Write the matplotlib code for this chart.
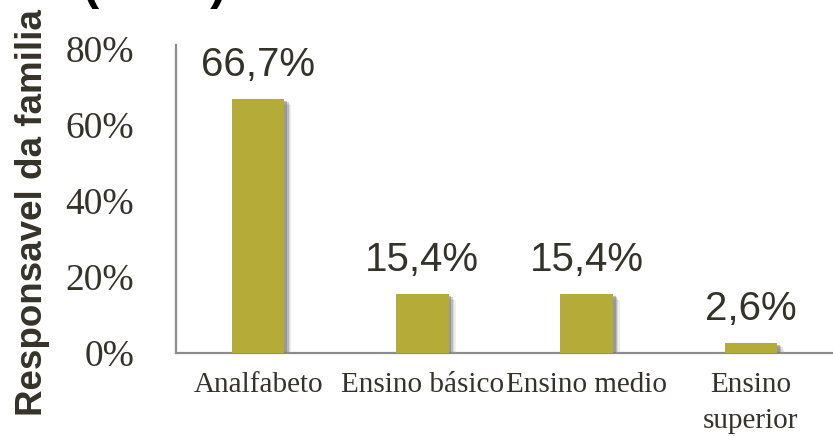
import matplotlib
matplotlib.use("Agg")
import matplotlib.pyplot as plt
import matplotlib.patheffects as pe
from matplotlib.ticker import FuncFormatter

categories = ["Analfabeto", "Ensino básico", "Ensino medio", "Ensino\nsuperior"]
values = [66.7, 15.4, 15.4, 2.6]
value_labels = ["66,7%", "15,4%", "15,4%", "2,6%"]
yticks = [0, 20, 40, 60, 80]

text_color = "#35322a"
bar_color = "#b5ab38"
spine_color = "#8c8c8c"

fig = plt.figure(figsize=(8.33, 4.36), dpi=100)
ax_h = 308.0
ax = fig.add_axes([176 / 833, 1 - 353 / 436, 1 - 176 / 833, ax_h / 436])

x = list(range(len(categories)))
shadow = [
    pe.SimplePatchShadow(offset=(5, -4), shadow_rgbFace="#b0b0b0", alpha=0.2),
    pe.SimplePatchShadow(offset=(4, -3), shadow_rgbFace="#9a9a9a", alpha=0.25),
    pe.SimplePatchShadow(offset=(3, -2), shadow_rgbFace="#808080", alpha=0.35),
    pe.SimplePatchShadow(offset=(2, -1), shadow_rgbFace="#707070", alpha=0.45),
    pe.Normal(),
]
bars = ax.bar(x, values, width=0.32, color=bar_color, zorder=3)
for b in bars:
    b.set_path_effects(shadow)

for xi, v, lab in zip(x, values, value_labels):
    ax.annotate(lab, (xi, v), xytext=(0, 11), textcoords="offset points",
                ha="center", va="bottom", fontsize=29,
                family="Liberation Sans", color=text_color)

ax.set_xlim(-0.5, 3.5)
ax.set_ylim(0, 81)
ax.set_yticks(yticks)
ax.yaxis.set_major_formatter(FuncFormatter(lambda v, p: f"{int(v)}%"))
ax.set_xticks(x)
ax.set_xticklabels(categories, fontsize=21, family="Liberation Serif",
                   color=text_color, linespacing=1.5)
ax.tick_params(axis="y", length=0, pad=30, labelsize=27, labelcolor=text_color)
ax.tick_params(axis="x", length=0, pad=14)
for t in ax.get_yticklabels():
    t.set_family("Liberation Serif")

for s in ["top", "right"]:
    ax.spines[s].set_visible(False)
for s in ["left", "bottom"]:
    ax.spines[s].set_color(spine_color)
    ax.spines[s].set_linewidth(1.6)

ax.set_ylabel("Responsavel da familia", fontsize=26.5, fontweight="bold",
              family="Liberation Sans", color=text_color)
ax.yaxis.set_label_coords((50 - 176) / 657, 0.5 - 14 / ax_h)

fig.text(155 / 833, 1 + 1 / 436, "(n=39)", ha="center", va="baseline",
         fontsize=35, fontweight="bold", family="Liberation Sans", color="#000000")

fig.savefig("out.png", dpi=100)
